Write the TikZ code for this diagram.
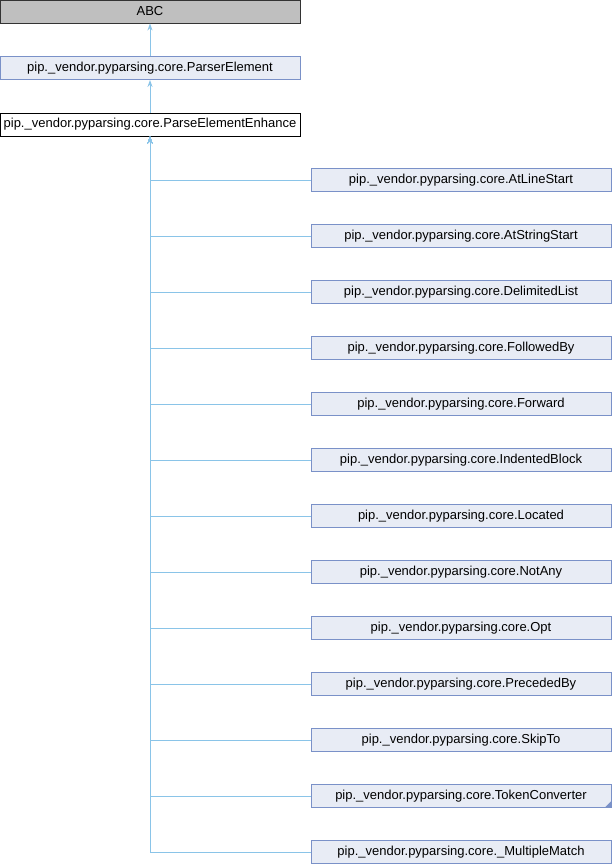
\documentclass[tikz,border=0pt]{standalone}
\usepackage{fontspec}
\setmainfont{Liberation Sans}
\usepackage{tikz}
\usetikzlibrary{positioning,arrows.meta}

\definecolor{edgeblue}{RGB}{138,196,232}
\definecolor{boxfill}{RGB}{232,236,245}
\definecolor{boxline}{RGB}{122,145,200}
\definecolor{abcfill}{RGB}{191,191,191}

\tikzset{
    cls/.style={draw=boxline, fill=boxfill, line width=0.9pt, minimum width=300pt, minimum height=23pt,
        inner sep=0pt, font=\fontsize{13}{15}\selectfont},
    edge/.style={draw=edgeblue, line width=0.9pt, -{Stealth[length=7pt,width=5pt]}}
}

\begin{document}
\begin{tikzpicture}[x=1pt, y=-1pt]
    \useasboundingbox (0,0) rectangle (612,864);

    % base classes
    \node[cls, draw=black!80, fill=abcfill] (abc) at (150,11.5) {ABC};
    \node[cls] (parser) at (150,68) {pip.\_vendor.pyparsing.core.ParserElement};
    \node[cls, draw=black, fill=white] (enh) at (150,124.5) {pip.\_vendor.pyparsing.core.ParseElementEnhance};

    % derived classes
    \node[cls] (atline) at (461,180) {pip.\_vendor.pyparsing.core.AtLineStart};
    \node[cls] (atstring) at (461,236) {pip.\_vendor.pyparsing.core.AtStringStart};
    \node[cls] (delim) at (461,292) {pip.\_vendor.pyparsing.core.DelimitedList};
    \node[cls] (followed) at (461,348) {pip.\_vendor.pyparsing.core.FollowedBy};
    \node[cls] (forward) at (461,404) {pip.\_vendor.pyparsing.core.Forward};
    \node[cls] (indented) at (461,460) {pip.\_vendor.pyparsing.core.IndentedBlock};
    \node[cls] (located) at (461,516) {pip.\_vendor.pyparsing.core.Located};
    \node[cls] (notany) at (461,572) {pip.\_vendor.pyparsing.core.NotAny};
    \node[cls] (opt) at (461,628) {pip.\_vendor.pyparsing.core.Opt};
    \node[cls] (preceded) at (461,684) {pip.\_vendor.pyparsing.core.PrecededBy};
    \node[cls] (skipto) at (461,740) {pip.\_vendor.pyparsing.core.SkipTo};
    \node[cls] (tokconv) at (461,796) {pip.\_vendor.pyparsing.core.TokenConverter};
    \node[cls] (multi) at (461,852) {pip.\_vendor.pyparsing.core.\_MultipleMatch};

    % truncated marker
    \path[fill=boxline] (tokconv.south east) -- ++(-7,0) -- ++(7,-7) -- cycle;

    % inheritance edges
    \path[edge] (parser) -- (abc);
    \path[edge] (enh) -- (parser);

    \foreach \child in {atline,atstring,delim,followed,forward,indented,located,notany,opt,preceded,skipto,tokconv,multi}
        \path[edge] (\child.west) -| (enh.south);
\end{tikzpicture}
\end{document}
